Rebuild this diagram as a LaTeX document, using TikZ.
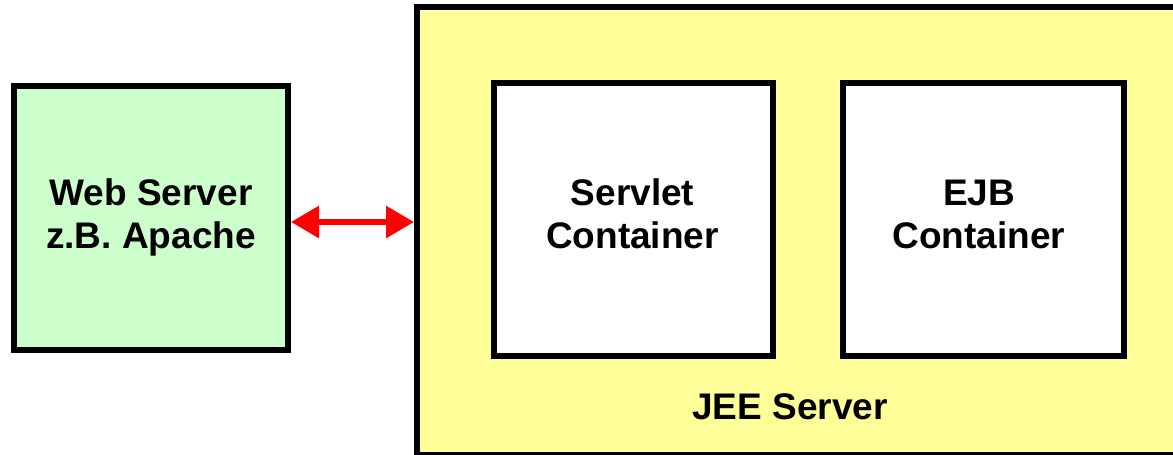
\documentclass[tikz,border=0pt]{standalone}
\usepackage{fontspec}
\setmainfont{Liberation Sans}
\usetikzlibrary{arrows.meta}
\definecolor{webgreen}{HTML}{CCFFCC}
\definecolor{jeeyellow}{HTML}{FFFF99}
\tikzset{
  box/.style={draw=black, line width=6pt, rectangle, inner sep=0pt, align=center,
    font=\fontsize{37}{43}\selectfont\bfseries},
  txt/.style={inner sep=0pt, align=center, font=\fontsize{37}{43}\selectfont\bfseries},
  link/.style={draw=red, line width=6pt, {Triangle[length=28pt,width=31pt]}-{Triangle[length=28pt,width=31pt]}}
}
\begin{document}
\begin{tikzpicture}[x=1pt,y=-1pt]
\useasboundingbox (0,0) rectangle (1173,455);
\clip (0,0) rectangle (1173,455);
\node[box, fill=webgreen, minimum width=274pt, minimum height=264pt] (web) at (151,217.5) {Web Server\\z.B. Apache};
\node[box, fill=jeeyellow, minimum width=773pt, minimum height=448pt] (jee) at (803.5,231) {};
\node[box, fill=white, minimum width=279pt, minimum height=273pt] (servlet) at (633.5,219.5) {};
\node[txt] (servlettext) at (632.5,214) {Servlet\\Container};
\node[box, fill=white, minimum width=281pt, minimum height=273pt] (ejb) at (983.5,219.5) {};
\node[txt] (ejbtext) at (979,214) {EJB\\Container};
\node[txt] (jeelabel) at (790,407) {JEE Server};
\coordinate (ay) at (0,222);
\draw[link] (web.east |- ay) -- (jee.west |- ay);
\end{tikzpicture}
\end{document}
